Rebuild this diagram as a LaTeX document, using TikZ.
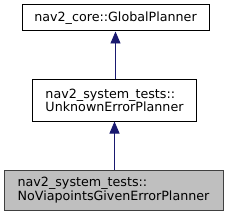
\documentclass[tikz,border=0pt]{standalone}
\usepackage{fontspec}
\setmainfont{DejaVu Sans}
\usepackage{tikz}
\usetikzlibrary{arrows.meta}
\definecolor{edgeblue}{HTML}{191970}
\definecolor{curfill}{HTML}{BFBFBF}
\definecolor{curline}{HTML}{404040}

\begin{document}
\begin{tikzpicture}[x=1pt,y=-1pt,font=\fontsize{12.7}{13.5}\selectfont,
    classbox/.style={draw=black,fill=white,line width=1pt,align=left,inner sep=0pt},
    curbox/.style={classbox,draw=curline,fill=curfill},
    inh/.style={draw=edgeblue,line width=0.9pt,-{Triangle[length=12pt,width=10pt]}}]
  \useasboundingbox (0,0) rectangle (229,216);
  % classes
  \node[classbox,minimum width=187pt,minimum height=26pt] (core) at (115.5,18) {nav2\_core::GlobalPlanner};
  \node[classbox,minimum width=164pt,minimum height=41pt] (unknown) at (114.5,100.5) {nav2\_system\_tests::\\UnknownErrorPlanner};
  \node[curbox,minimum width=219pt,minimum height=40pt] (noviapts) at (113.5,190) {nav2\_system\_tests::\\NoViapointsGivenErrorPlanner};
  % inheritance
  \draw[inh] (unknown.north -| core.south) -- (core.south);
  \draw[inh] (noviapts.north -| unknown.south) -- (unknown.south);
\end{tikzpicture}
\end{document}
